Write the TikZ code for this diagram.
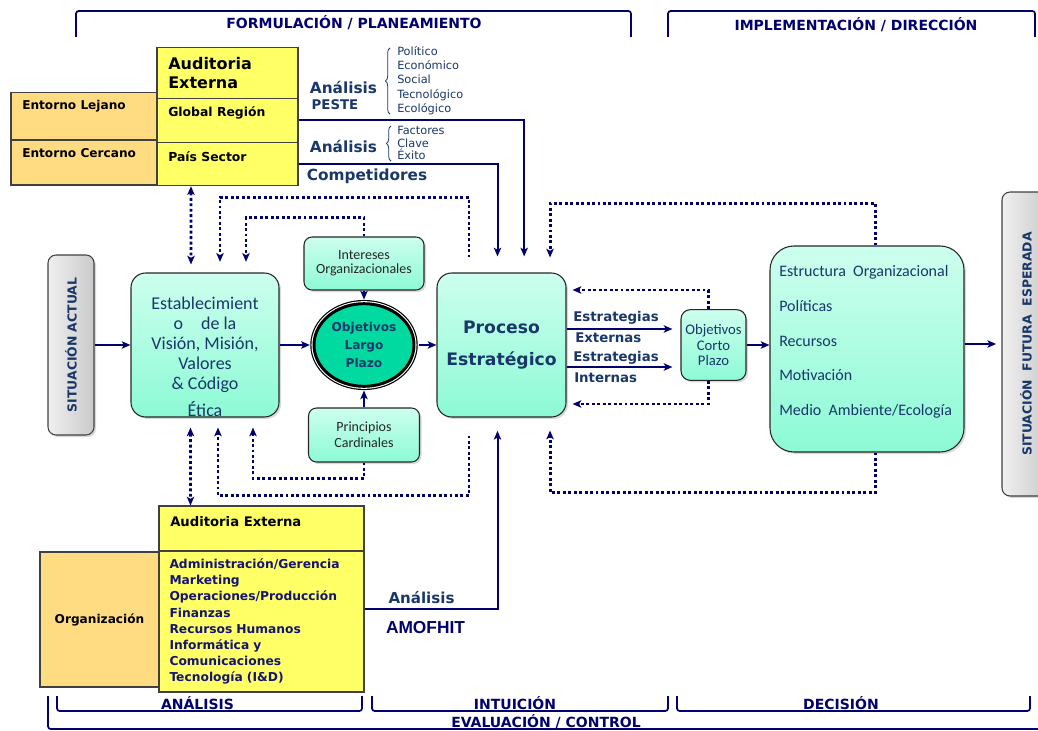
\documentclass[tikz,border=0pt]{standalone}
\usepackage{fontspec}
\usepackage{graphicx}
\usetikzlibrary{arrows, arrows.meta}
\usetikzlibrary{shapes, shadows, decorations.pathreplacing}

\newfontfamily\vfont{DejaVu Sans}
\newfontfamily\cfont{Carlito}
\newfontfamily\afont{Liberation Sans}

\definecolor{lnblue}{RGB}{0,0,110}
\definecolor{txblue}{RGB}{25,55,105}
\definecolor{lsblue}{RGB}{20,20,115}
\definecolor{yelbox}{RGB}{255,255,102}
\definecolor{orgbox}{RGB}{255,220,130}
\definecolor{mintA}{RGB}{205,255,238}
\definecolor{mintB}{RGB}{140,250,212}
\definecolor{ovalfill}{RGB}{0,217,160}

\begin{document}
\begin{tikzpicture}[x=0.75pt, y=-0.75pt, >={Stealth[length=6.5pt, width=5.5pt, inset=1.5pt]},
  cell/.style={draw=black!75, line width=0.8pt, inner sep=0pt},
  yel/.style={cell, fill=yelbox},
  org/.style={cell, fill=orgbox},
  mint/.style={draw=black!85, line width=0.8pt, top color=mintA, bottom color=mintB,
    drop shadow={opacity=0.3, shadow xshift=1.5pt, shadow yshift=-1.5pt}, align=center, inner sep=1pt},
  gris/.style={draw=black!75, line width=0.8pt, rounded corners=6pt, left color=gray!12, right color=gray!42,
    drop shadow={opacity=0.3, shadow xshift=1.5pt, shadow yshift=-1.5pt}, inner sep=0pt,
    text=txblue, font=\vfont\bfseries\fontsize{9.3}{11}\selectfont},
  txt/.style={inner sep=0pt, anchor=west, align=left},
  hdr/.style={inner sep=0pt, text=lnblue, font=\vfont\bfseries\fontsize{10.5}{12}\selectfont},
  lbl/.style={inner sep=0pt, text=txblue, font=\vfont\bfseries\fontsize{11.5}{13}\selectfont},
  estr/.style={txt, text=txblue, font=\vfont\bfseries\fontsize{10}{12}\selectfont},
  ln/.style={draw=lnblue, line width=1.5pt},
  dotln/.style={draw=lnblue, line width=2.2pt, dash pattern=on 2.2pt off 1.9pt},
  bracket/.style={draw=lnblue, line width=1.3pt, rounded corners=2pt},
  llave/.style={draw=txblue, line width=0.6pt, decorate, decoration={brace, amplitude=3.5pt}}]
\useasboundingbox (0,0) rectangle (1038,731);

\draw[bracket] (76,37) -- (76,11) -- (631,11) -- (631,37);
\draw[bracket] (668,37) -- (668,11) -- (1035,11) -- (1035,37);
\node[hdr] (formu) at (354,23) {FORMULACIÓN / PLANEAMIENTO};
\node[hdr] (imple) at (856,25) {IMPLEMENTACIÓN / DIRECCIÓN};

\node[org, minimum width=110.25pt, minimum height=35.25pt] (lejano) at (84.5,116.3) {};
\node[org, minimum width=110.25pt, minimum height=33.75pt] (cercano) at (84.5,162.5) {};
\node[yel, minimum width=105.75pt, minimum height=38pt] (ext1) at (227.5,73) {};
\node[yel, minimum width=105.75pt, minimum height=33.3pt] (ext2) at (227.5,120.5) {};
\node[yel, minimum width=105.75pt, minimum height=32.25pt] (ext3) at (227.5,164.2) {};
\node[txt, font=\vfont\bfseries\fontsize{12}{14.25}\selectfont] (ext1t) at (168,73.5) {Auditoria\\Externa};
\node[txt, font=\vfont\bfseries\fontsize{9.3}{11}\selectfont] (ext2t) at (168,113) {Global Región};
\node[txt, font=\vfont\bfseries\fontsize{9.3}{11}\selectfont] (ext3t) at (168,157) {País Sector};
\node[txt, font=\vfont\bfseries\fontsize{9.1}{11}\selectfont] (lejanot) at (22,106) {Entorno Lejano};
\node[txt, font=\vfont\bfseries\fontsize{9.1}{11}\selectfont] (cercanot) at (22,153) {Entorno Cercano};

\node[lbl] (pesteA) at (343.5,87) {Análisis};
\node[lbl, font=\vfont\bfseries\fontsize{10}{12}\selectfont] (peste) at (335,105) {PESTE};
\draw[llave] (390,114) -- (390,48);
\node[txt, text=txblue, font=\vfont\fontsize{8.5}{10.8}\selectfont] (pestelist) at (397,80.5)
  {Político\\Económico\\Social\\Tecnológico\\Ecológico};
\node[lbl] (fceA) at (343.5,146) {Análisis};
\draw[llave] (391,161) -- (391,126);
\node[txt, text=txblue, font=\vfont\fontsize{8.5}{9.3}\selectfont] (fcelist) at (397,143) {Factores\\Clave\\Éxito};
\node[lbl] (compet) at (367,176) {Competidores};

\node[gris, minimum width=34.5pt, minimum height=135pt] (actual) at (71,345) {\rotatebox{90}{SITUACIÓN ACTUAL}};
\node[mint, rounded corners=11pt, minimum width=111pt, minimum height=108pt] (estab) at (205,345) {};
\node[inner sep=0pt, align=center, text=txblue, font=\cfont\fontsize{13.5}{15}\selectfont] (estabt) at (205,357)
  {Establecimient\\o\quad de la\\Visión, Misión,\\Valores\\\& Código\\[5pt]Ética};
\node[mint, rounded corners=6pt, minimum width=90pt, minimum height=39.75pt, text=black!85,
  font=\cfont\fontsize{10.5}{10.5}\selectfont] (intereses) at (364,263.5) {Intereses\\Organizacionales};
\node[ellipse, draw=black, line width=2.2pt, fill=ovalfill, preaction={draw=black, line width=5.6pt},
  preaction={draw=white, line width=3.8pt}, minimum width=75pt, minimum height=62pt, inner sep=0pt,
  align=center, text=txblue, font=\vfont\bfseries\fontsize{9.1}{13.5}\selectfont] (objetivos) at (364,345) {Objetivos\\Largo\\Plazo};
\node[mint, rounded corners=6pt, minimum width=83.25pt, minimum height=40.5pt, text=black!85,
  font=\cfont\fontsize{10.5}{12}\selectfont] (principios) at (364,435) {Principios\\Cardinales};
\node[mint, rounded corners=11pt, minimum width=96.75pt, minimum height=108pt, text=txblue,
  font=\vfont\bfseries\fontsize{12.9}{24}\selectfont] (proceso) at (501.5,345) {Proceso\\Estratégico};
\node[mint, rounded corners=7pt, minimum width=48.75pt, minimum height=53pt, text=txblue,
  font=\cfont\fontsize{11}{11.6}\selectfont] (corto) at (713.5,345) {Objetivos\\Corto\\Plazo};
\node[mint, rounded corners=18pt, minimum width=145.5pt, minimum height=154.5pt] (estructura) at (867,349) {};
\node[txt, text=txblue, font=\cfont\fontsize{12}{26}\selectfont] (estructurat) at (779,342)
  {Estructura\ \ Organizacional\\Políticas\\Recursos\\Motivación\\Medio\ \ Ambiente/Ecología};
\node[gris, minimum width=36pt, minimum height=228pt] (futura) at (1026,344) {\rotatebox{90}{SITUACIÓN\ \ FUTURA\ \ ESPERADA}};

\node[estr] (estext1) at (573,318) {Estrategias};
\node[estr] (estext2) at (575,338) {Externas};
\node[estr] (estint1) at (573,358) {Estrategias};
\node[estr] (estint2) at (574,378) {Internas};

\node[org, minimum width=89.25pt, minimum height=101.25pt, font=\vfont\bfseries\fontsize{9.1}{11}\selectfont] (organiz) at (99.5,619.5) {Organización};
\node[yel, minimum width=153.75pt, minimum height=33.75pt] (int1) at (261.5,528.5) {};
\node[txt, font=\vfont\bfseries\fontsize{9.9}{12}\selectfont] (int1t) at (170,522) {Auditoria Externa};
\node[yel, minimum width=153.75pt, minimum height=105.75pt, text width=138pt, align=left, text=lsblue,
  font=\vfont\bfseries\fontsize{9.2}{12.1}\selectfont] (int2) at (261.5,621.5)
  {Administración/Gerencia\\Marketing\\Operaciones/Producción\\Finanzas\\Recursos Humanos\\Informática y\\Comunicaciones\\Tecnología (I\&D)};
\node[lbl, font=\vfont\bfseries\fontsize{11.3}{13}\selectfont] (amofA) at (421.5,598) {Análisis};
\node[inner sep=0pt, text=lnblue, font=\afont\bfseries\fontsize{13}{15}\selectfont] (amofhit) at (425.5,628) {AMOFHIT};

\draw[bracket] (57,696) -- (57,711) -- (362,711) -- (362,696);
\draw[bracket] (372,696) -- (372,711) -- (668,711) -- (668,696);
\draw[bracket] (677,696) -- (677,711) -- (1030,711) -- (1030,696);
\draw[bracket] (48,696) -- (48,729) -- (1045,729);
\node[hdr] (anal) at (197.5,703) {ANÁLISIS};
\node[hdr] (intui) at (515,703) {INTUICIÓN};
\node[hdr] (decis) at (841,703) {DECISIÓN};
\node[hdr] (evalu) at (546,722) {EVALUACIÓN / CONTROL};

\draw[ln,->] (actual.east) -- (estab.west);
\draw[ln,->,shorten >=2pt] (estab.east) -- (objetivos.west);
\draw[ln,->,shorten >=2pt] (intereses.south) -- (objetivos.north);
\draw[ln,->,shorten >=2pt] (principios.north) -- (objetivos.south);
\draw[ln,->,shorten <=2.8pt] (objetivos.east) -- (proceso.west);
\draw[ln,->] ([yshift=12pt]proceso.east) -- ([yshift=12pt,xshift=-6pt]corto.west);
\draw[ln,->] ([yshift=-16.5pt]proceso.east) -- ([yshift=-16.5pt,xshift=-6pt]corto.west);
\draw[ln,->] (corto.east) -- (corto.east -| estructura.west);
\draw[ln,->,shorten >=4pt] (estructura.east |- futura.west) -- (futura.west);
\draw[ln,->] (ext2.east) -| ([xshift=17pt,yshift=12pt]proceso.north);
\draw[ln,->] (ext3.east) -| ([xshift=-3pt,yshift=12pt]proceso.north);
\draw[ln,->] ([yshift=9.4pt]int2.east) -| ([xshift=-3pt,yshift=-10pt]proceso.south);

\draw[dotln,<->] ([xshift=-27.4pt]ext3.south) -- ([xshift=-10.5pt,yshift=6pt]estab.north);
\draw[dotln,->] ([xshift=-24.4pt,yshift=11.25pt]proceso.north) -- ++(0,-60) -| ([xshift=11.25pt,yshift=8pt]estab.north);
\draw[dotln,->] (intereses.north) -- ++(0,-19) -| ([xshift=30.75pt,yshift=8pt]estab.north);
\draw[dotln,<->] ([xshift=-10.9pt,yshift=-7.5pt]estab.south) -- ([xshift=-53.25pt]int1.north);
\draw[dotln,->] ([xshift=-24.4pt,yshift=-13.5pt]proceso.south) -- ++(0,60) -| ([xshift=9.75pt,yshift=-7.5pt]estab.south);
\draw[dotln,->] (principios.south) -- ++(0,16) -| ([xshift=36pt,yshift=-7.5pt]estab.south);
\draw[dotln,->] ([xshift=6.4pt]estructura.north) -- ++(0,-42) -| ([xshift=36.4pt,yshift=11.25pt]proceso.north);
\draw[dotln,->] ([xshift=6.4pt]estructura.south) -- ++(0,40) -| ([xshift=36.4pt,yshift=-9.75pt]proceso.south);
\draw[dotln,->] ([xshift=-4pt]corto.north) |- ([xshift=4.5pt,yshift=41.25pt]proceso.east);
\draw[dotln,->] ([xshift=-4pt]corto.south) |- ([xshift=4.5pt,yshift=-44.25pt]proceso.east);
\end{tikzpicture}
\end{document}
